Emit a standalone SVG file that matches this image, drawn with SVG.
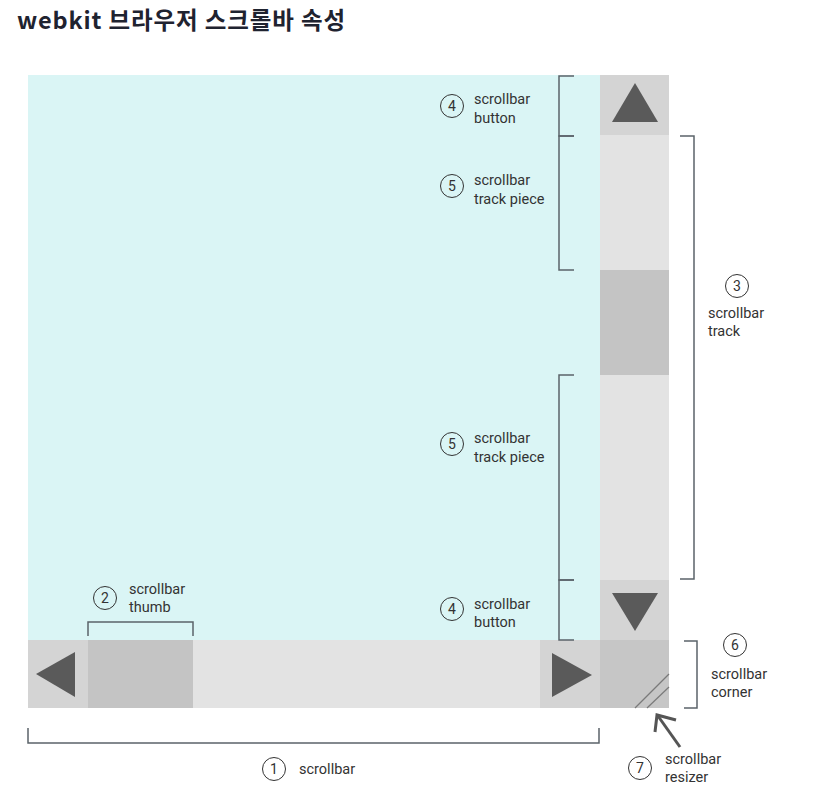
<svg xmlns="http://www.w3.org/2000/svg" width="816" height="793" viewBox="0 0 816 793">
<style>
.t{font-family:Roboto,"Liberation Sans",sans-serif;font-size:14.5px;fill:#333}
.n{font-family:Roboto,"Liberation Sans",sans-serif;font-size:14px;fill:#333;text-anchor:middle}
.c{fill:none;stroke:#333;stroke-width:1}
.br{fill:none;stroke:#5b6369;stroke-width:1.5}
.tri{fill:#5a5a5a}
</style>
<rect width="816" height="793" fill="#fff"/>
<text x="17" y="29" textLength="328" lengthAdjust="spacing" style="font-family:'Noto Sans CJK KR','Noto Sans',sans-serif;font-size:23.5px;font-weight:700;fill:#1f2330">webkit 브라우저 스크롤바 속성</text>

<g id="content"><rect x="28" y="75" width="572" height="565" fill="#daf5f5"/></g>

<g id="vscroll">
<rect x="600" y="75" width="69" height="60" fill="#d4d4d4"/>
<rect x="600" y="135" width="69" height="135" fill="#e3e3e3"/>
<rect x="600" y="270" width="69" height="105" fill="#c4c4c4"/>
<rect x="600" y="375" width="69" height="205" fill="#e3e3e3"/>
<rect x="600" y="580" width="69" height="60" fill="#d4d4d4"/>
<polygon class="tri" points="635,83 658,122 612,122"/>
<polygon class="tri" points="612,593 658,593 635,631"/>
</g>

<g id="hscroll">
<rect x="28" y="640" width="60" height="68" fill="#d4d4d4"/>
<rect x="88" y="640" width="105" height="68" fill="#c4c4c4"/>
<rect x="193" y="640" width="347" height="68" fill="#e3e3e3"/>
<rect x="540" y="640" width="60" height="68" fill="#d4d4d4"/>
<polygon class="tri" points="75,652 75,697 36,674"/>
<polygon class="tri" points="552,653 552,697 592,675"/>
</g>

<g id="corner">
<rect x="600" y="640" width="69" height="68" fill="#c6c6c6"/>
<line x1="635" y1="708" x2="669" y2="674" stroke="#7a7a7a" stroke-width="1.2"/>
<line x1="647" y1="708" x2="669" y2="687" stroke="#7a7a7a" stroke-width="1.2"/>
</g>

<g id="connectors">
<path class="br" d="M574,76 H559 V136 H574"/>
<path class="br" d="M574,136 H559 V270 H574"/>
<path class="br" d="M574,375 H559 V580 H574"/>
<path class="br" d="M574,580 H559 V640 H574"/>
<path class="br" d="M680,136 H694 V579 H680"/>
<path class="br" d="M684,641 H697 V708 H684"/>
<path class="br" d="M88,636 V622 H193 V636"/>
<path class="br" d="M28,728 V743 H599 V728"/>
<line x1="680" y1="747" x2="658" y2="716" stroke="#555" stroke-width="3"/>
<polyline points="655,732 657,715 676,720" fill="none" stroke="#555" stroke-width="3" stroke-linejoin="miter"/>
</g>

<g id="label1"><circle class="c" cx="274" cy="769" r="11.5"/><text class="n" x="274" y="774">1</text><text class="t" x="299" y="774">scrollbar</text></g>
<g id="label2"><circle class="c" cx="105" cy="598" r="11.5"/><text class="n" x="105" y="603">2</text><text class="t" x="129" y="594">scrollbar</text><text class="t" x="129" y="612">thumb</text></g>
<g id="label3"><circle class="c" cx="737" cy="286" r="11.5"/><text class="n" x="737" y="291">3</text><text class="t" x="708" y="318">scrollbar</text><text class="t" x="708" y="336">track</text></g>
<g id="label4a"><circle class="c" cx="452" cy="106" r="11.5"/><text class="n" x="452" y="111">4</text><text class="t" x="474" y="104">scrollbar</text><text class="t" x="474" y="123">button</text></g>
<g id="label5a"><circle class="c" cx="452" cy="186" r="11.5"/><text class="n" x="452" y="191">5</text><text class="t" x="474" y="185">scrollbar</text><text class="t" x="474" y="204">track piece</text></g>
<g id="label5b"><circle class="c" cx="452" cy="444" r="11.5"/><text class="n" x="452" y="449">5</text><text class="t" x="474" y="443">scrollbar</text><text class="t" x="474" y="462">track piece</text></g>
<g id="label4b"><circle class="c" cx="452" cy="609" r="11.5"/><text class="n" x="452" y="614">4</text><text class="t" x="474" y="609">scrollbar</text><text class="t" x="474" y="627">button</text></g>
<g id="label6"><circle class="c" cx="735" cy="645" r="11.5"/><text class="n" x="735" y="650">6</text><text class="t" x="711" y="679">scrollbar</text><text class="t" x="711" y="697">corner</text></g>
<g id="label7"><circle class="c" cx="640" cy="768" r="11.5"/><text class="n" x="640" y="773">7</text><text class="t" x="665" y="764">scrollbar</text><text class="t" x="665" y="782">resizer</text></g>
</svg>
